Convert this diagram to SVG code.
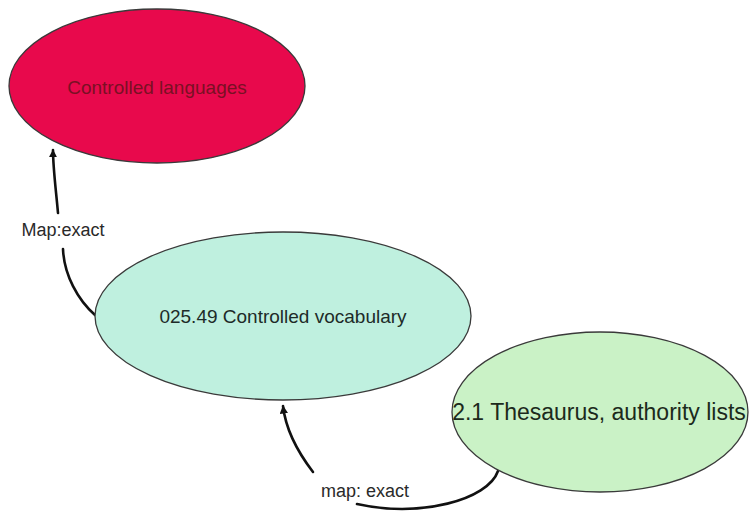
<svg xmlns="http://www.w3.org/2000/svg" width="749" height="513" viewBox="0 0 749 513">
  <style>
    .node { stroke: #3a3a3a; stroke-width: 1.3; }
    .label { font-family: "Liberation Sans", Arial, sans-serif; }
    .edge { fill: none; stroke: #111; stroke-width: 2.6; stroke-linecap: round; }
    .edge-text { font-family: "Liberation Sans", Arial, sans-serif; font-size: 18px; fill: #2a2a2a; }
  </style>
  <defs>
    <marker id="arrow" viewBox="0 0 10 10" refX="9" refY="5" markerWidth="3.2" markerHeight="3.2" orient="auto" markerUnits="strokeWidth">
      <path d="M0,0 L10,5 L0,10 Z" fill="#111"/>
    </marker>
  </defs>
  <rect width="749" height="513" fill="#ffffff"/>

  <g id="connectors">
    <!-- vocabulary -> languages -->
    <g id="edge-vocab-languages">
      <path class="edge" d="M95,315 C78,300 64,275 63,249"/>
      <path class="edge" d="M58,213 C56,190 53,168 53,150" marker-end="url(#arrow)"/>
      <text class="edge-text" x="63" y="236" text-anchor="middle">Map:exact</text>
    </g>
    <!-- thesaurus -> vocabulary -->
    <g id="edge-thesaurus-vocab">
      <path class="edge" d="M498,471 C488,500 420,518 357,504"/>
      <path class="edge" d="M313,472 C300,455 286,432 283,406" marker-end="url(#arrow)"/>
      <text class="edge-text" x="365" y="497" text-anchor="middle" font-size="19">map: exact</text>
    </g>
  </g>

  <g id="node-controlled-languages">
    <ellipse class="node" cx="157" cy="86" rx="148" ry="77" fill="#e8094c"/>
    <text class="label" x="157" y="94" text-anchor="middle" font-size="19" fill="#7a1024">Controlled languages</text>
  </g>

  <g id="node-controlled-vocabulary">
    <ellipse class="node" cx="283" cy="316" rx="188" ry="84" fill="#bff0df"/>
    <text class="label" x="283" y="323" text-anchor="middle" font-size="19" fill="#1d2b28">025.49 Controlled vocabulary</text>
  </g>

  <g id="node-thesaurus">
    <ellipse class="node" cx="600" cy="412" rx="148" ry="80" fill="#caf2c6"/>
    <text class="label" x="599" y="420" text-anchor="middle" font-size="23" fill="#1c2a1c">2.1 Thesaurus, authority lists</text>
  </g>
</svg>
